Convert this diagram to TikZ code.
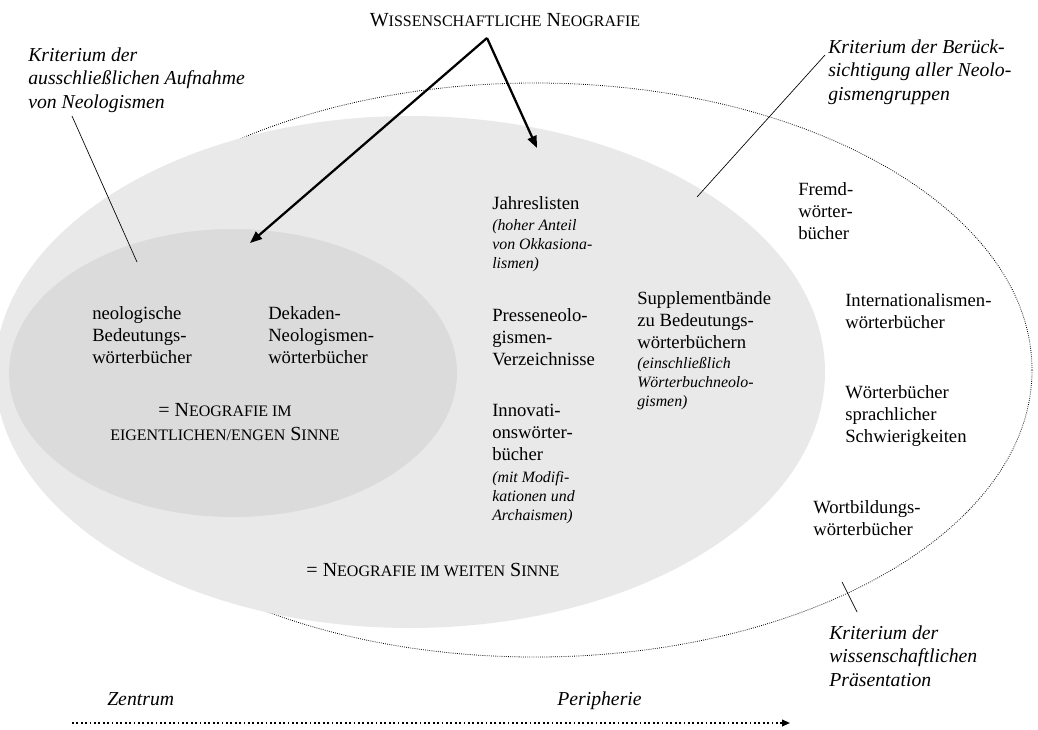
\documentclass[tikz,border=0pt]{standalone}
\usepackage{fontspec}
\setmainfont{Liberation Serif}
\usetikzlibrary{arrows.meta}
\definecolor{greyA}{RGB}{233,233,233}
\definecolor{greyB}{RGB}{219,219,219}
\newcommand\smc[1]{{\fontsize{12}{14}\selectfont #1}}
\begin{document}
\begin{tikzpicture}[x=0.75pt,y=-0.75pt,
  txt/.style={inner sep=0pt, anchor=base west, align=left, font=\fontsize{14}{16.5}\selectfont},
  itx/.style={inner sep=0pt, anchor=base west, align=left, font=\fontsize{14.8}{17.6}\selectfont\itshape},
  sml/.style={inner sep=0pt, anchor=base west, align=left, font=\fontsize{11.9}{14.25}\selectfont\itshape},
  ctr/.style={inner sep=0pt, align=center, font=\fontsize{15}{17.4}\selectfont},
  bigarrow/.style={line width=1.7pt, -{Triangle[length=9pt,width=7pt]}},
  pointer/.style={line width=0.5pt},
  outline/.style={densely dotted, line width=0.6pt}]
\useasboundingbox (0,0) rectangle (1038,729);

% ellipses
\draw[outline] (535,370) ellipse [x radius=372.75pt, y radius=215.25pt];
\fill[greyA] (410,372) ellipse [x radius=311.25pt, y radius=192pt];
\fill[greyB] (233,373) ellipse [x radius=168pt, y radius=108pt];

% title and arrows
\node[ctr] (title) at (505,20) {W\smc{ISSENSCHAFTLICHE} N\smc{EOGRAFIE}};
\coordinate (apex) at (487,38);
\coordinate (tipL) at (250,243);
\coordinate (tipR) at (537,148);
\draw[bigarrow] (apex) -- (tipL);
\draw[bigarrow] (apex) -- (tipR);

% criteria labels (base anchor = baseline of last line)
\node[itx] (k1) at (28,108) {Kriterium der\\ausschließlichen Aufnahme\\von Neologismen};
\coordinate (k1a) at (72,116);
\coordinate (k1b) at (137,262);
\draw[pointer] (k1a) -- (k1b);

\node[itx] (k2) at (828,100) {Kriterium der Berück-\\sichtigung aller Neolo-\\gismengruppen};
\coordinate (k2a) at (825,55);
\coordinate (k2b) at (697,197);
\draw[pointer] (k2a) -- (k2b);

\node[itx] (k3) at (829,686) {Kriterium der\\wissenschaftlichen\\Präsentation};
\coordinate (k3a) at (842,582);
\coordinate (k3b) at (857,612);
\draw[pointer] (k3a) -- (k3b);

% inner ellipse texts
\node[txt] (neol) at (92,363) {neologische\\Bedeutungs-\\wörterbücher};
\node[txt] (dek) at (268,363) {Dekaden-\\Neologismen-\\wörterbücher};
\node[ctr] (eng) at (225,422) {= N\smc{EOGRAFIE IM}\\\smc{EIGENTLICHEN/ENGEN} S\smc{INNE}};

% middle ellipse texts
\node[txt] (jahr) at (492,209) {Jahreslisten};
\node[sml] (jahrs) at (492,268) {(hoher Anteil\\von Okkasiona-\\lismen)};
\node[txt] (presse) at (492,365) {Presseneolo-\\gismen-\\Verzeichnisse};
\node[txt] (innov) at (492,460) {Innovati-\\onswörter-\\bücher};
\node[sml] (innovs) at (492,520) {(mit Modifi-\\kationen und\\Archaismen)};
\node[txt] (suppl) at (637,348) {Supplementbände\\zu Bedeutungs-\\wörterbüchern};
\node[sml] (suppls) at (637,406) {(einschließlich\\Wörterbuchneolo-\\gismen)};
\node[ctr] (weit) at (433,570) {= N\smc{EOGRAFIE IM WEITEN} S\smc{INNE}};

% outer texts
\node[txt] (fremd) at (798,239) {Fremd-\\wörter-\\bücher};
\node[txt] (intl) at (845,328) {Internationalismen-\\wörterbücher};
\node[txt] (schw) at (845,442) {Wörterbücher\\sprachlicher\\Schwierigkeiten};
\node[txt] (wortb) at (813,535) {Wortbildungs-\\wörterbücher};

% axis
\node[itx] (zen) at (107,705) {Zentrum};
\node[itx] (per) at (557,705) {Peripherie};
\coordinate (axA) at (72,723);
\coordinate (axB) at (790,723);
\draw[dotted, line width=1.3pt, -{Triangle[length=6pt,width=5pt]}] (axA) -- (axB);
\end{tikzpicture}
\end{document}
